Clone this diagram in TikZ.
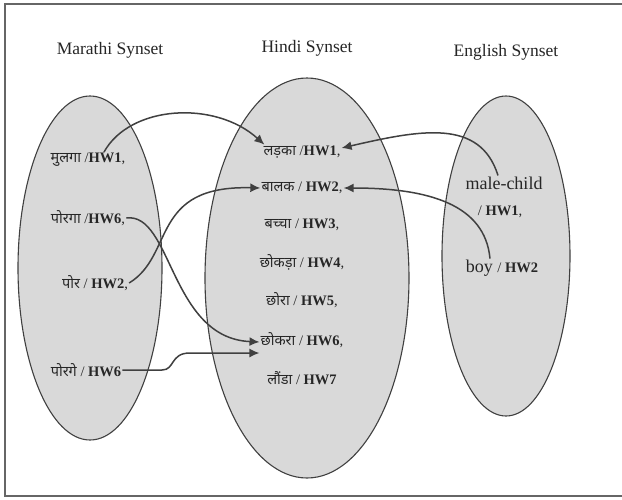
\documentclass[tikz,border=0pt]{standalone}
\usepackage{fontspec}
\setmainfont{Liberation Serif}
\newfontfamily\deva[Script=Devanagari]{Noto Sans}
\usetikzlibrary{shapes.geometric,arrows.meta}

\begin{document}
\begin{tikzpicture}[x=1pt,y=-1pt,
  synset/.style={draw=black!75, line width=1.1pt, fill=black!15, ellipse, inner sep=0pt},
  title/.style={font=\fontsize{17.5}{19}\selectfont, inner sep=1pt, text=black!85},
  word/.style={font=\fontsize{14.5}{16}\selectfont, inner sep=1pt, text=black!85},
  eword/.style={font=\fontsize{18}{20}\selectfont, inner sep=1pt, text=black!85},
  link/.style={draw=black!75, line width=1.5pt, -{Latex[length=10pt,width=9pt]}}]

% page and frame
\useasboundingbox (0,0) rectangle (622,499);
\fill[white] (0,0) rectangle (622,499);
\draw[black!60, line width=2.2pt] (622,4) -- (5,4) -- (5,496) -- (622,496);

% synset ellipses
\node[synset, minimum width=144pt, minimum height=344pt] (mr) at (90,268) {};
\node[synset, minimum width=204pt, minimum height=400pt] (hi) at (307,278) {};
\node[synset, minimum width=128pt, minimum height=320pt] (en) at (506,256) {};

% titles
\node[title] (mt) at (110,50) {Marathi Synset};
\node[title] (ht) at (307,48) {Hindi Synset};
\node[title] (et) at (506,52) {English Synset};

% Marathi words
\node[word] (m1) at (88,160) {{\deva मुलगा} /\textbf{HW1},};
\node[word] (m2) at (88,218) {{\deva पोरगा} /\textbf{HW6},};
\node[word] (m3) at (95,283) {{\deva पोर} / \textbf{HW2},};
\node[word] (m4) at (86,370) {{\deva पोरगे} / \textbf{HW6}};

% Hindi words
\node[word] (h1) at (302,152) {{\deva लड़का} /\textbf{HW1},};
\node[word] (h2) at (302,188) {{\deva बालक} / \textbf{HW2},};
\node[word] (h3) at (302,225) {{\deva बच्चा} / \textbf{HW3},};
\node[word] (h4) at (302,262) {{\deva छोकड़ा} / \textbf{HW4},};
\node[word] (h5) at (302,300) {{\deva छोरा} / \textbf{HW5},};
\node[word] (h6) at (302,340) {{\deva छोकरा} / \textbf{HW6},};
\node[word] (h7) at (302,378) {{\deva लौंडा} / \textbf{HW7}};

% English words
\node[eword] (e1) at (504,183) {male-child};
\node[word] (e2) at (500,212) {/ \textbf{HW1},};
\node[eword] (e3) at (502,268) {boy {\fontsize{14.5}{16}\selectfont / \textbf{HW2}}};

% links between synset members
\draw[link] ([xshift=16pt]m1.north) .. controls (130,105) and (215,100) .. ([xshift=2pt]h1.north west);
\draw[link] ([xshift=-6pt]e1.north) .. controls (480,118) and (420,130) .. ([yshift=4pt]h1.east);
\draw[link] (m3.east) .. controls (175,255) and (150,185) .. (h2.west);
\draw[link] (m2.east) .. controls (172,212) and (170,338) .. ([yshift=-2pt]h6.west);
\draw[link] (m4.east) -- (162,370) .. controls (175,370) and (170,353) .. (190,353) -- ([yshift=-13pt]h6.west);
\draw[link] ([xshift=-12pt]e3.north) .. controls (485,205) and (430,188) .. (h2.east);
\end{tikzpicture}
\end{document}
